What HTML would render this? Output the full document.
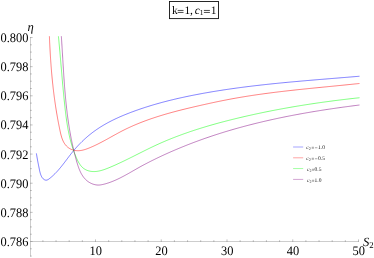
<!DOCTYPE html>
<html><head><meta charset="utf-8"><title>plot</title>
<style>html,body{margin:0;padding:0;background:#fff;width:374px;height:258px;overflow:hidden}body{font-family:"Liberation Serif",serif}</style></head>
<body>
<svg width="374" height="258" viewBox="0 0 374 258" style="position:absolute;left:0;top:0;will-change:transform;text-rendering:geometricPrecision;font-family:'Liberation Serif',serif">
<rect width="374" height="258" fill="#fff"/>
<g stroke="#9a9a9a" stroke-width="0.5" fill="none">
<path d="M30.5,37 V256.5"/>
<path d="M30.5,241.5 H358.8"/>
</g>
<g stroke="#8c8c8c" stroke-width="0.55" fill="none">
<path d="M42.90,242.0 v-1.8 M56.05,242.0 v-1.8 M69.20,242.0 v-1.8 M82.35,242.0 v-1.8 M95.50,242.0 v-2.6 M108.65,242.0 v-1.8 M121.80,242.0 v-1.8 M134.95,242.0 v-1.8 M148.10,242.0 v-1.8 M161.25,242.0 v-2.6 M174.40,242.0 v-1.8 M187.55,242.0 v-1.8 M200.70,242.0 v-1.8 M213.85,242.0 v-1.8 M227.00,242.0 v-2.6 M240.15,242.0 v-1.8 M253.30,242.0 v-1.8 M266.45,242.0 v-1.8 M279.60,242.0 v-1.8 M292.75,242.0 v-2.6 M305.90,242.0 v-1.8 M319.05,242.0 v-1.8 M332.20,242.0 v-1.8 M345.35,242.0 v-1.8 M358.50,242.0 v-2.6 "/>
<path d="M30.0,256.07 h1.8 M30.0,248.78 h1.8 M30.0,241.50 h2.6 M30.0,234.22 h1.8 M30.0,226.93 h1.8 M30.0,219.65 h1.8 M30.0,212.36 h2.6 M30.0,205.07 h1.8 M30.0,197.79 h1.8 M30.0,190.50 h1.8 M30.0,183.22 h2.6 M30.0,175.94 h1.8 M30.0,168.65 h1.8 M30.0,161.37 h1.8 M30.0,154.08 h2.6 M30.0,146.80 h1.8 M30.0,139.51 h1.8 M30.0,132.22 h1.8 M30.0,124.94 h2.6 M30.0,117.66 h1.8 M30.0,110.37 h1.8 M30.0,103.09 h1.8 M30.0,95.80 h2.6 M30.0,88.51 h1.8 M30.0,81.23 h1.8 M30.0,73.94 h1.8 M30.0,66.66 h2.6 M30.0,59.38 h1.8 M30.0,52.09 h1.8 M30.0,44.81 h1.8 M30.0,37.52 h2.6 "/>
</g>
<g font-size="13" fill="#000">
<text transform="translate(28.45,246) scale(0.955,1)" text-anchor="end">0.786</text>
<text transform="translate(28.45,217) scale(0.955,1)" text-anchor="end">0.788</text>
<text transform="translate(28.45,188) scale(0.955,1)" text-anchor="end">0.790</text>
<text transform="translate(28.45,159) scale(0.955,1)" text-anchor="end">0.792</text>
<text transform="translate(28.45,129) scale(0.955,1)" text-anchor="end">0.794</text>
<text transform="translate(28.45,100) scale(0.955,1)" text-anchor="end">0.796</text>
<text transform="translate(28.45,71) scale(0.955,1)" text-anchor="end">0.798</text>
<text transform="translate(28.45,42) scale(0.955,1)" text-anchor="end">0.800</text>
<text transform="translate(95.70,255) scale(0.955,1)" text-anchor="middle">10</text>
<text transform="translate(161.45,255) scale(0.955,1)" text-anchor="middle">20</text>
<text transform="translate(227.20,255) scale(0.955,1)" text-anchor="middle">30</text>
<text transform="translate(292.95,255) scale(0.955,1)" text-anchor="middle">40</text>
<text transform="translate(358.70,255) scale(0.955,1)" text-anchor="middle">50</text>
</g>
<text x="27.4" y="31.3" font-size="12.6" font-style="italic">η</text>
<text x="363.1" y="246" font-size="12.6" font-style="italic">S<tspan font-style="normal" font-size="8.8" dy="1.9" dx="-0.2">2</tspan></text>
<path d="M36.40,153.40 L36.54,154.35 L36.69,155.29 L36.85,156.22 L37.00,157.15 L37.16,158.07 L37.33,158.98 L37.49,159.89 L37.66,160.80 L37.84,161.70 L38.01,162.60 L38.19,163.49 L38.37,164.39 L38.54,165.29 L38.73,166.19 L38.91,167.09 L39.09,168.00 L39.27,168.91 L39.45,169.82 L39.64,170.74 L39.85,171.67 L40.08,172.60 L40.35,173.54 L40.66,174.48 L41.03,175.42 L41.46,176.36 L41.96,177.25 L42.53,178.08 L43.18,178.80 L43.89,179.39 L44.64,179.83 L45.43,180.10 L46.23,180.18 L47.03,180.05 L47.81,179.72 L48.58,179.25 L49.33,178.70 L50.07,178.12 L50.80,177.53 L51.51,176.92 L52.22,176.30 L52.91,175.68 L53.59,175.04 L54.26,174.40 L54.93,173.74 L55.58,173.08 L56.22,172.41 L56.86,171.73 L57.49,171.04 L58.11,170.35 L58.72,169.65 L59.32,168.94 L59.93,168.23 L60.52,167.51 L61.11,166.79 L61.69,166.06 L62.28,165.33 L62.85,164.60 L63.43,163.86 L64.00,163.12 L64.57,162.37 L65.13,161.63 L65.70,160.88 L66.27,160.13 L66.83,159.39 L67.39,158.64 L67.96,157.89 L68.53,157.14 L69.09,156.39 L69.66,155.65 L70.24,154.90 L70.81,154.16 L71.39,153.42 L71.97,152.69 L72.56,151.96 L73.15,151.23 L73.74,150.50 L74.35,149.79 L74.95,149.07 L75.57,148.36 L76.19,147.66 L76.81,146.96 L77.44,146.27 L78.08,145.58 L78.72,144.90 L79.37,144.22 L80.02,143.55 L80.68,142.88 L81.34,142.22 L82.01,141.56 L82.69,140.91 L83.37,140.27 L84.05,139.63 L84.74,139.00 L85.44,138.37 L86.14,137.75 L86.84,137.13 L87.55,136.52 L88.26,135.92 L88.98,135.32 L89.71,134.73 L90.44,134.15 L91.17,133.57 L91.91,133.00 L92.65,132.43 L93.40,131.87 L94.15,131.32 L94.90,130.78 L95.66,130.24 L96.43,129.70 L97.19,129.18 L97.97,128.66 L98.74,128.14 L99.52,127.64 L100.31,127.13 L101.10,126.64 L101.89,126.15 L102.68,125.67 L103.48,125.19 L104.29,124.72 L105.09,124.26 L105.90,123.80 L106.71,123.34 L107.53,122.89 L108.35,122.45 L109.17,122.01 L110.00,121.58 L110.82,121.15 L111.66,120.73 L112.49,120.31 L113.33,119.90 L114.16,119.49 L115.01,119.09 L115.85,118.69 L116.70,118.30 L117.54,117.91 L118.39,117.52 L119.25,117.14 L120.10,116.77 L120.96,116.39 L121.82,116.02 L122.68,115.66 L123.54,115.30 L124.41,114.94 L125.27,114.59 L126.14,114.24 L127.01,113.89 L127.88,113.55 L128.75,113.21 L129.62,112.87 L130.50,112.53 L131.37,112.20 L132.25,111.88 L133.12,111.55 L134.00,111.23 L134.88,110.91 L135.76,110.59 L136.64,110.28 L137.52,109.97 L138.40,109.66 L139.29,109.35 L140.17,109.05 L141.05,108.75 L141.94,108.45 L142.83,108.16 L143.71,107.86 L144.60,107.57 L145.49,107.28 L146.38,107.00 L147.27,106.72 L148.16,106.44 L149.05,106.16 L149.94,105.88 L150.84,105.61 L151.73,105.34 L152.63,105.07 L153.52,104.81 L154.42,104.55 L155.32,104.29 L156.21,104.03 L157.11,103.77 L158.01,103.52 L158.91,103.27 L159.81,103.02 L160.71,102.77 L161.61,102.52 L162.51,102.28 L163.42,102.04 L164.32,101.80 L165.22,101.57 L166.13,101.33 L167.03,101.10 L167.94,100.87 L168.84,100.64 L169.75,100.41 L170.66,100.19 L171.56,99.97 L172.47,99.75 L173.38,99.53 L174.29,99.31 L175.20,99.10 L176.11,98.88 L177.02,98.67 L177.93,98.46 L178.84,98.26 L179.75,98.05 L180.67,97.85 L181.58,97.65 L182.49,97.45 L183.40,97.25 L184.32,97.05 L185.23,96.85 L186.15,96.66 L187.06,96.47 L187.98,96.28 L188.89,96.09 L189.81,95.90 L190.72,95.72 L191.64,95.53 L192.56,95.35 L193.47,95.17 L194.39,94.99 L195.31,94.81 L196.22,94.63 L197.14,94.46 L198.06,94.28 L198.98,94.11 L199.90,93.94 L200.82,93.77 L201.73,93.60 L202.65,93.43 L203.57,93.26 L204.49,93.10 L205.41,92.93 L206.33,92.77 L207.25,92.61 L208.17,92.45 L209.09,92.29 L210.01,92.13 L210.93,91.98 L211.85,91.82 L212.77,91.67 L213.70,91.51 L214.62,91.36 L215.54,91.21 L216.46,91.06 L217.38,90.91 L218.30,90.76 L219.23,90.62 L220.15,90.47 L221.07,90.33 L221.99,90.19 L222.92,90.04 L223.84,89.90 L224.76,89.76 L225.69,89.63 L226.61,89.49 L227.53,89.35 L228.46,89.22 L229.38,89.08 L230.31,88.95 L231.23,88.82 L232.16,88.68 L233.08,88.55 L234.00,88.42 L234.93,88.30 L235.85,88.17 L236.78,88.04 L237.70,87.92 L238.63,87.79 L239.56,87.67 L240.48,87.55 L241.41,87.42 L242.33,87.30 L243.26,87.18 L244.18,87.06 L245.11,86.94 L246.04,86.83 L246.96,86.71 L247.89,86.59 L248.82,86.48 L249.74,86.37 L250.67,86.25 L251.60,86.14 L252.53,86.03 L253.45,85.92 L254.38,85.81 L255.31,85.70 L256.24,85.59 L257.16,85.48 L258.09,85.37 L259.02,85.27 L259.95,85.16 L260.87,85.06 L261.80,84.95 L262.73,84.85 L263.66,84.75 L264.59,84.65 L265.52,84.54 L266.45,84.44 L267.37,84.34 L268.30,84.24 L269.23,84.15 L270.16,84.05 L271.09,83.95 L272.02,83.85 L272.95,83.76 L273.88,83.66 L274.81,83.57 L275.74,83.47 L276.67,83.38 L277.60,83.29 L278.53,83.19 L279.46,83.10 L280.38,83.01 L281.31,82.92 L282.24,82.83 L283.17,82.74 L284.10,82.65 L285.03,82.56 L285.96,82.47 L286.90,82.38 L287.83,82.29 L288.76,82.21 L289.69,82.12 L290.62,82.03 L291.55,81.95 L292.48,81.86 L293.41,81.78 L294.34,81.69 L295.27,81.61 L296.20,81.52 L297.13,81.44 L298.06,81.36 L298.99,81.28 L299.92,81.19 L300.85,81.11 L301.78,81.03 L302.72,80.95 L303.65,80.87 L304.58,80.79 L305.51,80.71 L306.44,80.62 L307.37,80.54 L308.30,80.47 L309.23,80.39 L310.16,80.31 L311.09,80.23 L312.03,80.15 L312.96,80.07 L313.89,79.99 L314.82,79.91 L315.75,79.84 L316.68,79.76 L317.61,79.68 L318.54,79.60 L319.47,79.53 L320.41,79.45 L321.34,79.37 L322.27,79.30 L323.20,79.22 L324.13,79.14 L325.06,79.07 L325.99,78.99 L326.92,78.92 L327.85,78.84 L328.79,78.76 L329.72,78.69 L330.65,78.61 L331.58,78.54 L332.51,78.46 L333.44,78.39 L334.37,78.31 L335.30,78.23 L336.23,78.16 L337.16,78.08 L338.09,78.01 L339.03,77.93 L339.96,77.86 L340.89,77.78 L341.82,77.70 L342.75,77.63 L343.68,77.55 L344.61,77.48 L345.54,77.40 L346.47,77.32 L347.40,77.25 L348.33,77.17 L349.26,77.09 L350.19,77.02 L351.12,76.94 L352.05,76.86 L352.98,76.79 L353.91,76.71 L354.84,76.63 L355.77,76.56 L356.70,76.48 L357.63,76.40 L358.56,76.32 L359.49,76.24" fill="none" stroke="#0000ff" stroke-width="0.5" stroke-linejoin="round"/>
<path d="M49.39,36.25 L49.44,37.31 L49.48,38.38 L49.53,39.44 L49.58,40.50 L49.62,41.56 L49.67,42.61 L49.72,43.67 L49.78,44.72 L49.83,45.78 L49.88,46.83 L49.94,47.88 L49.99,48.93 L50.05,49.98 L50.11,51.03 L50.17,52.07 L50.23,53.12 L50.29,54.17 L50.35,55.21 L50.42,56.25 L50.49,57.29 L50.55,58.34 L50.62,59.38 L50.69,60.42 L50.76,61.46 L50.84,62.49 L50.91,63.53 L50.99,64.57 L51.06,65.60 L51.14,66.64 L51.22,67.67 L51.31,68.71 L51.39,69.74 L51.47,70.78 L51.56,71.81 L51.65,72.84 L51.74,73.87 L51.83,74.91 L51.93,75.94 L52.02,76.97 L52.12,78.00 L52.22,79.03 L52.32,80.06 L52.42,81.09 L52.53,82.12 L52.64,83.15 L52.75,84.18 L52.86,85.21 L52.97,86.24 L53.08,87.26 L53.20,88.29 L53.32,89.32 L53.44,90.35 L53.56,91.38 L53.69,92.41 L53.82,93.44 L53.95,94.47 L54.08,95.50 L54.21,96.53 L54.35,97.56 L54.49,98.59 L54.63,99.62 L54.77,100.65 L54.92,101.68 L55.07,102.71 L55.22,103.75 L55.37,104.78 L55.53,105.81 L55.68,106.85 L55.84,107.88 L56.01,108.91 L56.17,109.95 L56.34,110.98 L56.51,112.02 L56.68,113.06 L56.86,114.10 L57.04,115.13 L57.22,116.17 L57.40,117.21 L57.59,118.25 L57.78,119.30 L57.97,120.34 L58.17,121.38 L58.36,122.43 L58.57,123.47 L58.77,124.52 L58.98,125.56 L59.19,126.61 L59.40,127.66 L59.61,128.71 L59.83,129.76 L60.05,130.81 L60.28,131.87 L60.51,132.92 L60.76,133.96 L61.02,135.00 L61.30,136.02 L61.60,137.04 L61.92,138.04 L62.27,139.02 L62.64,139.98 L63.06,140.92 L63.50,141.83 L63.99,142.72 L64.52,143.58 L65.10,144.40 L65.72,145.19 L66.39,145.95 L67.11,146.66 L67.88,147.32 L68.69,147.93 L69.55,148.48 L70.44,148.98 L71.37,149.41 L72.33,149.78 L73.31,150.10 L74.31,150.35 L75.33,150.54 L76.35,150.66 L77.38,150.72 L78.41,150.72 L79.44,150.67 L80.47,150.55 L81.49,150.39 L82.51,150.18 L83.53,149.93 L84.55,149.65 L85.56,149.33 L86.57,148.98 L87.57,148.62 L88.57,148.23 L89.57,147.83 L90.55,147.41 L91.53,146.99 L92.51,146.57 L93.47,146.13 L94.44,145.69 L95.40,145.24 L96.35,144.78 L97.30,144.32 L98.24,143.85 L99.18,143.37 L100.12,142.89 L101.05,142.41 L101.98,141.92 L102.91,141.43 L103.83,140.93 L104.75,140.44 L105.67,139.94 L106.59,139.43 L107.50,138.93 L108.42,138.42 L109.33,137.92 L110.24,137.41 L111.15,136.90 L112.06,136.40 L112.97,135.89 L113.88,135.39 L114.79,134.88 L115.70,134.38 L116.61,133.88 L117.52,133.38 L118.43,132.89 L119.35,132.40 L120.26,131.91 L121.18,131.43 L122.10,130.95 L123.03,130.48 L123.95,130.01 L124.88,129.55 L125.81,129.09 L126.75,128.64 L127.68,128.20 L128.62,127.75 L129.56,127.32 L130.51,126.89 L131.45,126.46 L132.40,126.04 L133.35,125.62 L134.31,125.21 L135.26,124.80 L136.22,124.39 L137.18,124.00 L138.14,123.60 L139.10,123.21 L140.07,122.83 L141.04,122.44 L142.01,122.07 L142.98,121.69 L143.95,121.32 L144.93,120.96 L145.91,120.60 L146.89,120.24 L147.87,119.89 L148.85,119.54 L149.83,119.19 L150.82,118.85 L151.81,118.51 L152.80,118.18 L153.79,117.85 L154.78,117.52 L155.77,117.19 L156.77,116.87 L157.77,116.55 L158.76,116.24 L159.76,115.93 L160.76,115.62 L161.76,115.32 L162.77,115.01 L163.77,114.71 L164.78,114.42 L165.78,114.12 L166.79,113.83 L167.80,113.54 L168.81,113.26 L169.82,112.98 L170.83,112.70 L171.84,112.42 L172.85,112.14 L173.86,111.87 L174.88,111.60 L175.89,111.33 L176.91,111.06 L177.92,110.80 L178.94,110.54 L179.96,110.28 L180.98,110.02 L181.99,109.76 L183.01,109.51 L184.03,109.26 L185.05,109.01 L186.07,108.76 L187.09,108.51 L188.11,108.26 L189.13,108.02 L190.15,107.78 L191.17,107.54 L192.19,107.30 L193.21,107.06 L194.23,106.82 L195.26,106.58 L196.28,106.35 L197.30,106.11 L198.32,105.88 L199.34,105.65 L200.36,105.41 L201.38,105.18 L202.40,104.95 L203.42,104.72 L204.44,104.50 L205.46,104.27 L206.47,104.04 L207.49,103.82 L208.51,103.59 L209.53,103.37 L210.55,103.15 L211.57,102.93 L212.59,102.71 L213.61,102.49 L214.63,102.27 L215.64,102.06 L216.66,101.84 L217.68,101.63 L218.70,101.42 L219.72,101.21 L220.74,101.00 L221.76,100.80 L222.78,100.59 L223.80,100.39 L224.82,100.19 L225.85,99.99 L226.87,99.79 L227.89,99.59 L228.91,99.40 L229.94,99.20 L230.96,99.01 L231.98,98.82 L233.01,98.63 L234.03,98.45 L235.06,98.26 L236.08,98.08 L237.11,97.90 L238.13,97.72 L239.16,97.55 L240.19,97.37 L241.22,97.20 L242.24,97.03 L243.27,96.86 L244.30,96.69 L245.33,96.52 L246.36,96.35 L247.39,96.19 L248.42,96.03 L249.45,95.87 L250.48,95.71 L251.51,95.55 L252.54,95.39 L253.58,95.24 L254.61,95.09 L255.64,94.93 L256.67,94.78 L257.71,94.63 L258.74,94.49 L259.77,94.34 L260.81,94.19 L261.84,94.05 L262.88,93.91 L263.91,93.76 L264.95,93.62 L265.98,93.49 L267.02,93.35 L268.05,93.21 L269.09,93.08 L270.12,92.94 L271.16,92.81 L272.20,92.68 L273.23,92.54 L274.27,92.41 L275.31,92.28 L276.35,92.16 L277.38,92.03 L278.42,91.90 L279.46,91.78 L280.50,91.65 L281.54,91.53 L282.58,91.41 L283.61,91.29 L284.65,91.17 L285.69,91.05 L286.73,90.93 L287.77,90.81 L288.81,90.69 L289.85,90.58 L290.89,90.46 L291.93,90.34 L292.97,90.23 L294.01,90.12 L295.05,90.00 L296.09,89.89 L297.13,89.78 L298.17,89.67 L299.21,89.56 L300.25,89.45 L301.29,89.34 L302.33,89.23 L303.37,89.12 L304.42,89.01 L305.46,88.91 L306.50,88.80 L307.54,88.69 L308.58,88.59 L309.62,88.48 L310.66,88.37 L311.70,88.27 L312.74,88.16 L313.78,88.06 L314.82,87.96 L315.86,87.85 L316.91,87.75 L317.95,87.65 L318.99,87.54 L320.03,87.44 L321.07,87.34 L322.11,87.23 L323.15,87.13 L324.19,87.03 L325.23,86.93 L326.27,86.83 L327.31,86.72 L328.35,86.62 L329.39,86.52 L330.43,86.42 L331.47,86.32 L332.51,86.21 L333.55,86.11 L334.59,86.01 L335.63,85.91 L336.67,85.81 L337.71,85.70 L338.75,85.60 L339.78,85.50 L340.82,85.39 L341.86,85.29 L342.90,85.19 L343.94,85.08 L344.98,84.98 L346.01,84.88 L347.05,84.77 L348.09,84.67 L349.12,84.56 L350.16,84.46 L351.20,84.35 L352.23,84.24 L353.27,84.14 L354.31,84.03 L355.34,83.92 L356.38,83.82 L357.41,83.71 L358.45,83.60 L359.48,83.49" fill="none" stroke="#ff0000" stroke-width="0.5" stroke-linejoin="round"/>
<path d="M58.42,36.30 L58.53,37.36 L58.63,38.42 L58.74,39.47 L58.84,40.53 L58.94,41.59 L59.04,42.65 L59.14,43.71 L59.24,44.77 L59.34,45.83 L59.43,46.89 L59.53,47.95 L59.63,49.01 L59.72,50.07 L59.82,51.13 L59.91,52.19 L60.00,53.25 L60.10,54.31 L60.19,55.37 L60.28,56.43 L60.37,57.49 L60.47,58.56 L60.56,59.62 L60.65,60.68 L60.74,61.74 L60.83,62.80 L60.92,63.86 L61.01,64.92 L61.10,65.99 L61.19,67.05 L61.29,68.11 L61.38,69.17 L61.47,70.23 L61.56,71.29 L61.65,72.36 L61.74,73.42 L61.83,74.48 L61.92,75.54 L62.01,76.60 L62.11,77.66 L62.20,78.73 L62.29,79.79 L62.39,80.85 L62.48,81.91 L62.57,82.97 L62.67,84.03 L62.76,85.09 L62.86,86.15 L62.96,87.22 L63.05,88.28 L63.15,89.34 L63.25,90.40 L63.35,91.46 L63.45,92.52 L63.55,93.58 L63.65,94.64 L63.76,95.70 L63.86,96.76 L63.97,97.82 L64.07,98.88 L64.18,99.94 L64.29,101.00 L64.40,102.05 L64.51,103.11 L64.62,104.17 L64.73,105.23 L64.85,106.29 L64.96,107.34 L65.08,108.40 L65.20,109.46 L65.32,110.52 L65.44,111.57 L65.57,112.63 L65.70,113.68 L65.83,114.74 L65.96,115.79 L66.10,116.85 L66.24,117.90 L66.38,118.95 L66.53,120.00 L66.68,121.06 L66.84,122.11 L67.00,123.16 L67.16,124.20 L67.33,125.25 L67.51,126.30 L67.69,127.35 L67.87,128.39 L68.06,129.44 L68.26,130.48 L68.47,131.52 L68.67,132.56 L68.89,133.60 L69.11,134.64 L69.34,135.68 L69.58,136.72 L69.82,137.75 L70.07,138.79 L70.33,139.82 L70.60,140.85 L70.87,141.88 L71.16,142.91 L71.45,143.94 L71.75,144.96 L72.06,145.99 L72.38,147.01 L72.71,148.03 L73.04,149.05 L73.39,150.07 L73.75,151.09 L74.11,152.10 L74.49,153.11 L74.88,154.12 L75.28,155.13 L75.69,156.14 L76.11,157.14 L76.54,158.15 L76.99,159.14 L77.45,160.13 L77.94,161.10 L78.44,162.05 L78.98,162.98 L79.54,163.88 L80.13,164.74 L80.76,165.57 L81.43,166.36 L82.13,167.11 L82.88,167.80 L83.67,168.45 L84.52,169.03 L85.41,169.55 L86.34,170.02 L87.31,170.42 L88.31,170.75 L89.33,171.03 L90.36,171.25 L91.40,171.41 L92.43,171.52 L93.47,171.56 L94.51,171.56 L95.54,171.51 L96.58,171.41 L97.62,171.27 L98.65,171.09 L99.69,170.87 L100.72,170.62 L101.76,170.34 L102.79,170.03 L103.82,169.69 L104.84,169.33 L105.87,168.96 L106.89,168.57 L107.91,168.16 L108.92,167.75 L109.94,167.33 L110.94,166.90 L111.95,166.47 L112.95,166.04 L113.94,165.60 L114.94,165.16 L115.93,164.72 L116.91,164.27 L117.89,163.82 L118.87,163.37 L119.85,162.92 L120.83,162.46 L121.80,162.00 L122.77,161.54 L123.73,161.07 L124.70,160.61 L125.66,160.14 L126.62,159.67 L127.58,159.20 L128.53,158.73 L129.49,158.26 L130.44,157.78 L131.39,157.31 L132.35,156.83 L133.29,156.36 L134.24,155.88 L135.19,155.41 L136.14,154.93 L137.08,154.45 L138.03,153.98 L138.97,153.50 L139.92,153.02 L140.86,152.55 L141.80,152.08 L142.75,151.60 L143.69,151.13 L144.64,150.66 L145.58,150.19 L146.52,149.72 L147.47,149.26 L148.42,148.79 L149.36,148.33 L150.31,147.87 L151.26,147.41 L152.21,146.96 L153.16,146.51 L154.12,146.06 L155.07,145.61 L156.03,145.17 L156.99,144.73 L157.95,144.29 L158.91,143.85 L159.87,143.42 L160.84,142.99 L161.81,142.57 L162.77,142.15 L163.75,141.73 L164.72,141.31 L165.69,140.90 L166.67,140.49 L167.65,140.09 L168.62,139.68 L169.61,139.28 L170.59,138.89 L171.57,138.49 L172.56,138.10 L173.54,137.71 L174.53,137.33 L175.52,136.94 L176.51,136.56 L177.51,136.19 L178.50,135.81 L179.50,135.44 L180.49,135.07 L181.49,134.71 L182.49,134.34 L183.49,133.98 L184.49,133.62 L185.50,133.27 L186.50,132.91 L187.51,132.56 L188.51,132.22 L189.52,131.87 L190.53,131.53 L191.54,131.19 L192.55,130.85 L193.57,130.52 L194.58,130.18 L195.59,129.85 L196.61,129.53 L197.63,129.20 L198.65,128.88 L199.66,128.56 L200.68,128.24 L201.70,127.92 L202.73,127.61 L203.75,127.30 L204.77,126.99 L205.79,126.68 L206.82,126.37 L207.85,126.07 L208.87,125.77 L209.90,125.47 L210.93,125.17 L211.95,124.88 L212.98,124.59 L214.01,124.30 L215.04,124.01 L216.08,123.72 L217.11,123.44 L218.14,123.15 L219.17,122.87 L220.20,122.59 L221.24,122.32 L222.27,122.04 L223.31,121.77 L224.34,121.50 L225.38,121.23 L226.41,120.96 L227.45,120.69 L228.49,120.43 L229.52,120.17 L230.56,119.91 L231.60,119.65 L232.64,119.39 L233.68,119.13 L234.71,118.88 L235.75,118.62 L236.79,118.37 L237.83,118.12 L238.87,117.87 L239.91,117.63 L240.95,117.38 L241.99,117.14 L243.03,116.90 L244.07,116.65 L245.11,116.41 L246.15,116.18 L247.19,115.94 L248.23,115.70 L249.27,115.47 L250.31,115.24 L251.35,115.01 L252.39,114.78 L253.43,114.55 L254.47,114.32 L255.51,114.09 L256.55,113.87 L257.59,113.65 L258.63,113.43 L259.67,113.21 L260.71,112.99 L261.76,112.77 L262.80,112.55 L263.84,112.34 L264.88,112.12 L265.92,111.91 L266.97,111.70 L268.01,111.49 L269.05,111.28 L270.09,111.08 L271.14,110.87 L272.18,110.67 L273.22,110.46 L274.27,110.26 L275.31,110.06 L276.35,109.86 L277.40,109.67 L278.44,109.47 L279.49,109.27 L280.53,109.08 L281.57,108.89 L282.62,108.69 L283.66,108.50 L284.71,108.32 L285.75,108.13 L286.80,107.94 L287.85,107.76 L288.89,107.57 L289.94,107.39 L290.98,107.21 L292.03,107.03 L293.08,106.85 L294.12,106.67 L295.17,106.49 L296.22,106.32 L297.27,106.14 L298.31,105.97 L299.36,105.80 L300.41,105.62 L301.46,105.45 L302.51,105.29 L303.56,105.12 L304.60,104.95 L305.65,104.79 L306.70,104.62 L307.75,104.46 L308.80,104.30 L309.85,104.14 L310.90,103.98 L311.95,103.82 L313.01,103.66 L314.06,103.50 L315.11,103.35 L316.16,103.19 L317.21,103.04 L318.26,102.89 L319.32,102.74 L320.37,102.59 L321.42,102.44 L322.48,102.29 L323.53,102.15 L324.58,102.00 L325.64,101.85 L326.69,101.71 L327.75,101.57 L328.80,101.43 L329.86,101.29 L330.91,101.15 L331.97,101.01 L333.02,100.87 L334.08,100.73 L335.14,100.60 L336.19,100.46 L337.25,100.33 L338.31,100.20 L339.36,100.07 L340.42,99.94 L341.48,99.81 L342.54,99.68 L343.60,99.55 L344.66,99.42 L345.72,99.30 L346.78,99.17 L347.84,99.05 L348.90,98.92 L349.96,98.80 L351.02,98.68 L352.08,98.56 L353.14,98.44 L354.21,98.32 L355.27,98.20 L356.33,98.09 L357.39,97.97 L358.46,97.86 L359.52,97.74" fill="none" stroke="#00ff00" stroke-width="0.5" stroke-linejoin="round"/>
<path d="M61.34,36.24 L61.42,37.35 L61.49,38.45 L61.56,39.55 L61.64,40.65 L61.71,41.76 L61.78,42.86 L61.85,43.96 L61.92,45.06 L61.99,46.16 L62.06,47.25 L62.12,48.35 L62.19,49.45 L62.26,50.55 L62.32,51.64 L62.39,52.74 L62.46,53.84 L62.52,54.93 L62.59,56.03 L62.65,57.12 L62.72,58.21 L62.78,59.31 L62.85,60.40 L62.91,61.49 L62.98,62.59 L63.05,63.68 L63.11,64.77 L63.18,65.86 L63.25,66.95 L63.31,68.04 L63.38,69.13 L63.45,70.22 L63.52,71.31 L63.59,72.40 L63.66,73.48 L63.73,74.57 L63.80,75.66 L63.87,76.75 L63.95,77.83 L64.02,78.92 L64.10,80.01 L64.17,81.09 L64.25,82.18 L64.33,83.26 L64.41,84.35 L64.49,85.43 L64.57,86.52 L64.66,87.60 L64.74,88.68 L64.83,89.77 L64.92,90.85 L65.01,91.93 L65.10,93.01 L65.19,94.10 L65.29,95.18 L65.39,96.26 L65.49,97.34 L65.59,98.42 L65.69,99.51 L65.79,100.59 L65.90,101.67 L66.01,102.75 L66.12,103.83 L66.23,104.91 L66.35,105.99 L66.47,107.07 L66.59,108.15 L66.71,109.23 L66.84,110.31 L66.97,111.39 L67.10,112.47 L67.23,113.55 L67.37,114.62 L67.50,115.70 L67.65,116.78 L67.79,117.86 L67.94,118.94 L68.09,120.02 L68.24,121.10 L68.40,122.17 L68.56,123.25 L68.72,124.33 L68.89,125.41 L69.06,126.49 L69.23,127.56 L69.40,128.64 L69.58,129.72 L69.77,130.80 L69.95,131.87 L70.14,132.95 L70.34,134.03 L70.54,135.11 L70.74,136.19 L70.94,137.26 L71.15,138.34 L71.37,139.42 L71.58,140.50 L71.80,141.57 L72.03,142.65 L72.26,143.73 L72.49,144.81 L72.73,145.89 L72.97,146.96 L73.22,148.04 L73.47,149.12 L73.73,150.20 L73.99,151.28 L74.25,152.36 L74.52,153.44 L74.79,154.51 L75.07,155.59 L75.36,156.67 L75.64,157.75 L75.94,158.83 L76.24,159.91 L76.54,160.99 L76.85,162.07 L77.16,163.14 L77.49,164.22 L77.83,165.28 L78.18,166.34 L78.55,167.39 L78.93,168.42 L79.33,169.44 L79.75,170.45 L80.19,171.44 L80.66,172.41 L81.15,173.37 L81.67,174.30 L82.21,175.20 L82.79,176.08 L83.40,176.94 L84.04,177.76 L84.72,178.55 L85.43,179.31 L86.18,180.04 L86.98,180.73 L87.81,181.38 L88.69,182.00 L89.62,182.57 L90.59,183.09 L91.59,183.57 L92.63,183.99 L93.69,184.35 L94.77,184.64 L95.87,184.86 L96.97,185.00 L98.06,185.07 L99.16,185.04 L100.25,184.94 L101.33,184.78 L102.40,184.57 L103.47,184.32 L104.53,184.05 L105.59,183.77 L106.63,183.46 L107.67,183.14 L108.71,182.80 L109.74,182.44 L110.76,182.07 L111.78,181.68 L112.79,181.28 L113.80,180.87 L114.80,180.44 L115.80,180.00 L116.79,179.55 L117.78,179.09 L118.77,178.62 L119.75,178.14 L120.73,177.65 L121.70,177.15 L122.67,176.65 L123.64,176.13 L124.61,175.61 L125.57,175.09 L126.54,174.56 L127.50,174.02 L128.46,173.49 L129.42,172.94 L130.37,172.40 L131.33,171.85 L132.28,171.30 L133.24,170.76 L134.19,170.21 L135.15,169.66 L136.10,169.11 L137.06,168.57 L138.02,168.03 L138.97,167.49 L139.93,166.95 L140.89,166.42 L141.86,165.89 L142.82,165.37 L143.78,164.85 L144.75,164.34 L145.72,163.83 L146.69,163.32 L147.66,162.82 L148.63,162.32 L149.60,161.82 L150.58,161.33 L151.55,160.84 L152.53,160.35 L153.51,159.87 L154.49,159.39 L155.47,158.91 L156.45,158.43 L157.43,157.96 L158.42,157.49 L159.40,157.02 L160.39,156.55 L161.38,156.09 L162.37,155.63 L163.36,155.17 L164.35,154.71 L165.35,154.26 L166.34,153.81 L167.34,153.36 L168.33,152.91 L169.33,152.47 L170.33,152.03 L171.33,151.59 L172.33,151.15 L173.33,150.72 L174.34,150.29 L175.34,149.86 L176.35,149.43 L177.35,149.01 L178.36,148.58 L179.37,148.16 L180.38,147.75 L181.39,147.33 L182.40,146.92 L183.42,146.51 L184.43,146.10 L185.44,145.69 L186.46,145.29 L187.48,144.89 L188.49,144.49 L189.51,144.09 L190.53,143.70 L191.55,143.31 L192.57,142.92 L193.60,142.53 L194.62,142.15 L195.64,141.76 L196.67,141.38 L197.69,141.01 L198.72,140.63 L199.75,140.26 L200.77,139.88 L201.80,139.52 L202.83,139.15 L203.86,138.78 L204.89,138.42 L205.93,138.06 L206.96,137.71 L207.99,137.35 L209.03,137.00 L210.06,136.65 L211.10,136.30 L212.13,135.95 L213.17,135.61 L214.21,135.26 L215.25,134.92 L216.28,134.59 L217.32,134.25 L218.36,133.92 L219.41,133.59 L220.45,133.26 L221.49,132.93 L222.53,132.61 L223.58,132.28 L224.62,131.96 L225.67,131.64 L226.71,131.33 L227.76,131.01 L228.80,130.70 L229.85,130.39 L230.90,130.08 L231.95,129.78 L233.00,129.47 L234.05,129.17 L235.10,128.87 L236.15,128.57 L237.20,128.28 L238.25,127.98 L239.31,127.69 L240.36,127.40 L241.41,127.11 L242.47,126.83 L243.52,126.54 L244.58,126.26 L245.63,125.98 L246.69,125.70 L247.75,125.42 L248.80,125.15 L249.86,124.88 L250.92,124.60 L251.98,124.34 L253.04,124.07 L254.10,123.80 L255.16,123.54 L256.22,123.28 L257.28,123.02 L258.34,122.76 L259.41,122.50 L260.47,122.25 L261.53,121.99 L262.60,121.74 L263.66,121.49 L264.73,121.24 L265.79,121.00 L266.86,120.75 L267.92,120.51 L268.99,120.27 L270.06,120.03 L271.12,119.79 L272.19,119.56 L273.26,119.32 L274.33,119.09 L275.40,118.86 L276.46,118.63 L277.53,118.40 L278.60,118.17 L279.67,117.95 L280.74,117.72 L281.82,117.50 L282.89,117.28 L283.96,117.06 L285.03,116.85 L286.10,116.63 L287.18,116.42 L288.25,116.21 L289.32,115.99 L290.39,115.79 L291.47,115.58 L292.54,115.37 L293.62,115.17 L294.69,114.96 L295.77,114.76 L296.84,114.56 L297.92,114.36 L298.99,114.16 L300.07,113.96 L301.15,113.77 L302.22,113.58 L303.30,113.38 L304.38,113.19 L305.45,113.00 L306.53,112.81 L307.61,112.63 L308.69,112.44 L309.76,112.26 L310.84,112.07 L311.92,111.89 L313.00,111.71 L314.08,111.53 L315.16,111.35 L316.24,111.18 L317.32,111.00 L318.40,110.83 L319.48,110.65 L320.56,110.48 L321.64,110.31 L322.72,110.14 L323.80,109.97 L324.88,109.81 L325.96,109.64 L327.04,109.48 L328.12,109.31 L329.20,109.15 L330.28,108.99 L331.36,108.83 L332.44,108.67 L333.53,108.51 L334.61,108.35 L335.69,108.20 L336.77,108.04 L337.85,107.89 L338.93,107.74 L340.02,107.59 L341.10,107.43 L342.18,107.28 L343.26,107.14 L344.34,106.99 L345.42,106.84 L346.51,106.70 L347.59,106.55 L348.67,106.41 L349.75,106.26 L350.84,106.12 L351.92,105.98 L353.00,105.84 L354.08,105.70 L355.16,105.56 L356.25,105.43 L357.33,105.29 L358.41,105.15 L359.49,105.02" fill="none" stroke="#800080" stroke-width="0.5" stroke-linejoin="round"/>
<rect x="169.5" y="1.5" width="49" height="17.1" fill="#fff" stroke="#111" stroke-width="0.9"/>
<text y="13.8" font-size="11.5"><tspan x="172.1">k</tspan><tspan x="184.4">1</tspan><tspan x="190.0">,</tspan><tspan x="194.8" font-style="italic">c</tspan><tspan x="199.70000000000002" font-size="7.5" dy="0.9">1</tspan><tspan x="210.8" dy="-0.9">1</tspan></text>
<path d="M177.7,10.45 H183.5 M177.7,12.45 H183.5 M203.9,10.45 H209.9 M203.9,12.45 H209.9" stroke="#111" stroke-width="0.75" fill="none"/>
<path d="M293.1,147.0 H303.2" stroke="#0000ff" stroke-width="0.36"/>
<text y="149.00" font-size="5.5" fill="#1a1a1a"><tspan x="306.3" font-style="italic">c</tspan><tspan font-size="4" dy="0.8">2</tspan><tspan x="318.0" dy="-0.8">1.0</tspan></text>
<path d="M311.7,147.25 H313.9 M311.7,148.25 H313.9 M314.9,147.75 H317.4" stroke="#222" stroke-width="0.38" fill="none"/>
<path d="M293.1,157.8 H303.2" stroke="#ff0000" stroke-width="0.36"/>
<text y="160.00" font-size="5.5" fill="#1a1a1a"><tspan x="306.3" font-style="italic">c</tspan><tspan font-size="4" dy="0.8">2</tspan><tspan x="318.0" dy="-0.8">0.5</tspan></text>
<path d="M311.7,158.25 H313.9 M311.7,159.25 H313.9 M314.9,158.75 H317.4" stroke="#222" stroke-width="0.38" fill="none"/>
<path d="M293.1,168.55 H303.2" stroke="#00ff00" stroke-width="0.36"/>
<text y="171.00" font-size="5.5" fill="#1a1a1a"><tspan x="307.1" font-style="italic">c</tspan><tspan font-size="4" dy="0.8">2</tspan><tspan x="314.6" dy="-0.8">0.5</tspan></text>
<path d="M312.1,169.25 H314.2 M312.1,170.25 H314.2" stroke="#222" stroke-width="0.38" fill="none"/>
<path d="M293.1,179.4 H303.2" stroke="#800080" stroke-width="0.36"/>
<text y="182.00" font-size="5.5" fill="#1a1a1a"><tspan x="307.1" font-style="italic">c</tspan><tspan font-size="4" dy="0.8">2</tspan><tspan x="314.6" dy="-0.8">1.0</tspan></text>
<path d="M312.1,180.25 H314.2 M312.1,181.25 H314.2" stroke="#222" stroke-width="0.38" fill="none"/>
</svg>
</body></html>
